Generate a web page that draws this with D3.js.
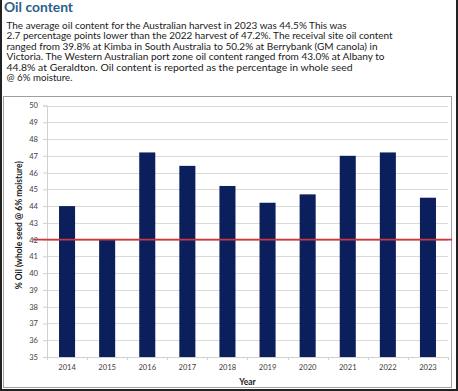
<!DOCTYPE html>
<html><head><meta charset="utf-8">
<script src="https://cdn.jsdelivr.net/npm/d3@7/dist/d3.min.js"></script>
<style>html,body{margin:0;padding:0;background:#fff;}svg{display:block;}</style>
</head><body>
<script>
const years = ["2014","2015","2016","2017","2018","2019","2020","2021","2022","2023"];
const oilContent = [44.0, 42.0, 47.2, 46.4, 45.2, 44.2, 44.7, 47.0, 47.2, 44.5];
const referenceLevel = [42];
const yTicks = [35,36,37,38,39,40,41,42,43,44,45,46,47,48,49,50];
const titleText = "Oil content";
const bodyLines = [
  "The average oil content for the Australian harvest in 2023 was 44.5% This was",
  "2.7 percentage points lower than the 2022 harvest of 47.2%. The receival site oil content",
  "ranged from 39.8% at Kimba in South Australia to 50.2% at Berrybank (GM canola) in",
  "Victoria. The Western Australian port zone oil content ranged from 43.0% at Albany to",
  "44.8% at Geraldton. Oil content is reported as the percentage in whole seed",
  "@ 6% moisture."
];
const lineWidths = [340, 386, 371, 378, 346, 66];
const yTitle = "% Oil (whole seed @ 6% moisture)";
const xTitle = "Year";

const W = 458, H = 391;
const FONT = "Lato, 'Open Sans', sans-serif";
const svg = d3.select("body").append("svg").attr("width", W).attr("height", H);
svg.append("rect").attr("width", W).attr("height", H).attr("fill", "#fff");

// Heading
svg.append("text").attr("x", 4).attr("y", 12).text(titleText)
  .attr("font-family", FONT).attr("font-weight", "bold")
  .attr("font-size", 12.5).attr("fill", "#2b5e8c")
  .attr("textLength", 69).attr("lengthAdjust", "spacingAndGlyphs");

bodyLines.forEach((t, i) => {
  svg.append("text").attr("x", 6.5).attr("y", 28.7 + i * 10.5).text(t)
    .attr("font-family", FONT).attr("font-size", 8.7)
    .attr("fill", "#1a1a1a")
    .attr("textLength", lineWidths[i]).attr("lengthAdjust", "spacingAndGlyphs");
});

// chart frame
svg.append("rect").attr("x", 3.5).attr("y", 96.5).attr("width", 448).attr("height", 291)
  .attr("fill", "#fff").attr("stroke", "#a0a0a0").attr("stroke-width", 1);

const plot = {left: 47, right: 448, top: 105.5, bottom: 357};
const x = d3.scaleBand().domain(years).range([plot.left, plot.right]).paddingInner(0.6).paddingOuter(0.3);
const y = d3.scaleLinear().domain([35, 50]).range([plot.bottom, plot.top]);

// gridlines
svg.append("g").selectAll("line").data(yTicks).join("line")
  .attr("x1", plot.left).attr("x2", plot.right)
  .attr("y1", d => Math.round(y(d)) + 0.5).attr("y2", d => Math.round(y(d)) + 0.5)
  .attr("stroke", "#d9d9d9").attr("stroke-width", 1);

// y axis
const yAxis = svg.append("g").attr("transform", `translate(${plot.left},0)`)
  .call(d3.axisLeft(y).tickValues(yTicks).tickSize(4).tickPadding(5).tickFormat(d3.format("d")));
yAxis.select(".domain").attr("stroke", "#d0d0d0");
yAxis.selectAll(".tick line").attr("stroke", "#d0d0d0");
yAxis.selectAll("text").attr("font-family", FONT).attr("font-size", 7.6).attr("fill", "#404040");

// x axis
const xAxis = svg.append("g").attr("transform", `translate(0,${plot.bottom})`)
  .call(d3.axisBottom(x).tickSize(0).tickPadding(8));
xAxis.select(".domain").attr("stroke", "#d0d0d0");
xAxis.selectAll("text").attr("font-family", FONT).attr("font-size", 7.6).attr("fill", "#404040");
// category separators
const step = x.step();
const x0 = x(years[0]) - x.paddingOuter() * step;
svg.append("g").selectAll("line").data(d3.range(years.length + 1)).join("line")
  .attr("x1", i => Math.round(x0 + i * step) + 0.5)
  .attr("x2", i => Math.round(x0 + i * step) + 0.5)
  .attr("y1", plot.bottom).attr("y2", plot.bottom + 3).attr("stroke", "#d0d0d0");

// bars
svg.append("g").selectAll("rect").data(years).join("rect")
  .attr("x", d => x(d)).attr("width", x.bandwidth())
  .attr("y", (d, i) => y(oilContent[i]))
  .attr("height", (d, i) => y(35) - y(oilContent[i]))
  .attr("fill", "#0a1f5c");

// reference line
svg.append("g").selectAll("line").data(referenceLevel).join("line")
  .attr("x1", 33).attr("x2", 452).attr("y1", d => y(d)).attr("y2", d => y(d))
  .attr("stroke", "#d0373a").attr("stroke-width", 1.8);

// axis titles
svg.append("text").attr("x", (plot.left + plot.right) / 2).attr("y", 385)
  .attr("text-anchor", "middle").text(xTitle)
  .attr("font-family", FONT).attr("font-weight", "bold")
  .attr("font-size", 8.5).attr("fill", "#1a1a1a");
svg.append("text").attr("transform", `translate(22,${(plot.top + plot.bottom) / 2 - 6}) rotate(-90)`)
  .attr("text-anchor", "middle").text(yTitle)
  .attr("font-family", FONT).attr("font-weight", "bold")
  .attr("font-size", 8.5).attr("fill", "#1a1a1a");

// outer page border
svg.append("path").attr("d", `M1,0 V${H-1} H${W-1} V0`).attr("fill", "none")
  .attr("stroke", "#222").attr("stroke-width", 2);
</script>
</body></html>
